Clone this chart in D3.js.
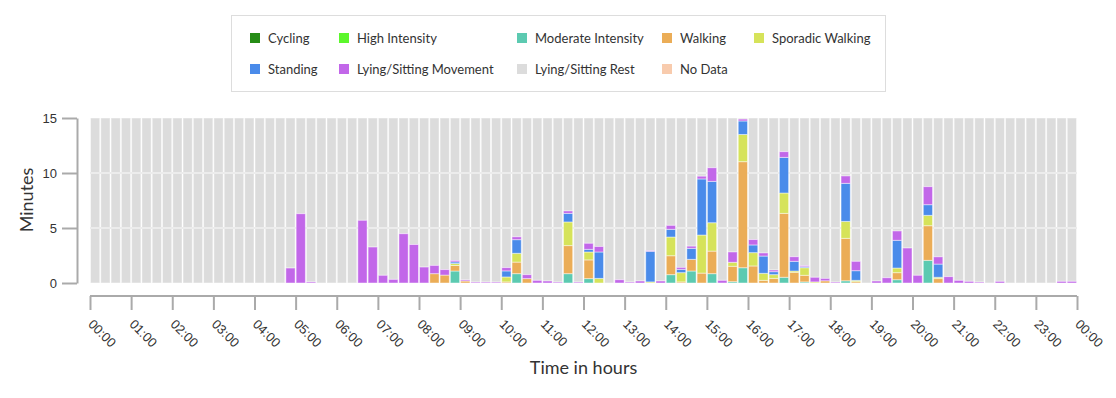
<!DOCTYPE html>
<html>
<head>
    <meta charset="utf-8">
    <title>Activity per 15 minutes</title>
    <script src="https://cdnjs.cloudflare.com/ajax/libs/d3/7.8.5/d3.min.js"></script>
    <style>
        body { margin: 0; background: #fff; font-family: Lato, "Open Sans", sans-serif; }
        svg text { fill: #333; }
        .axis path, .axis line { stroke: #aaa; stroke-width: 2; }
        .axis text { font-size: 13px; fill: #333; }
    </style>
</head>
<body>
<svg id="chart" width="1116" height="398"></svg>
<script>
    // categories (stack order bottom -> top) and colours
    const categories = ["Cycling", "High Intensity", "Moderate Intensity", "Walking", "Sporadic Walking",
        "Standing", "Lying/Sitting Movement", "Lying/Sitting Rest", "No Data"]
    const colors = ["#268c16", "#5cf72c", "#5ccab1", "#ebad57", "#d6e35a",
        "#4a8bea", "#c267e9", "#dcdcdc", "#f8cbad"]

    // minutes per 15 minute slot, 96 slots (12 per row = 3 hours)
    const cycling = [
        0,0,0,0,0,0,0,0,0,0,0,0,
        0,0,0,0,0,0,0,0,0,0,0,0,
        0,0,0,0,0,0,0,0,0,0,0,0,
        0,0,0,0,0,0,0,0,0,0,0,0,
        0,0,0,0,0,0,0,0,0,0,0,0,
        0,0,0,0,0,0,0,0,0,0,0,0,
        0,0,0,0,0,0,0,0,0,0,0,0,
        0,0,0,0,0,0,0,0,0,0,0,0]
    const highIntensity = [
        0,0,0,0,0,0,0,0,0,0,0,0,
        0,0,0,0,0,0,0,0,0,0,0,0,
        0,0,0,0,0,0,0,0,0,0,0,0,
        0,0,0,0,0,0,0,0,0,0,0,0,
        0,0,0,0,0,0,0,0,0,0,0,0,
        0,0,0,0,0,0,0,0,0,0,0,0,
        0,0,0,0,0,0,0,0,0,0,0,0,
        0,0,0,0,0,0,0,0,0,0,0,0]
    const moderate = [
        0,0,0,0,0,0,0,0,0,0,0,0,
        0,0,0,0,0,0,0,0,0,0,0,0,
        0,0,0,0,0,0,0,0,0,0,0,1.09,
        0,0,0,0,0,0.85,0,0,0,0,0.85,0,
        0.4,0,0,0,0,0,0,0,0.76,0,1.09,0,
        0.85,0,0.12,1.39,0,0,0,0.52,0,0.1,0,0,
        0,0.2,0,0,0,0,0.3,0,0,2.06,0,0,
        0,0,0,0,0,0,0,0,0,0,0,0]
    const walking = [
        0,0,0,0,0,0,0,0,0,0,0,0,
        0,0,0,0,0,0,0,0,0,0,0,0,
        0,0,0,0,0,0,0,0,0,0.85,0.72,0.5,
        0.18,0,0,0,0.1,1.05,0.4,0,0,0,2.55,0,
        1.7,0,0,0,0,0,0,0,1.72,0.1,1.06,0.9,
        2.05,0,1.4,9.64,1.55,0.24,0.42,5.81,0.97,0.6,0,0.2,
        0,3.86,0.12,0,0,0,0.64,0,0,3.15,0.4,0,
        0,0,0,0,0,0,0,0,0,0,0,0]
    const sporadic = [
        0,0,0,0,0,0,0,0,0,0,0,0,
        0,0,0,0,0,0,0,0,0,0,0,0,
        0,0,0,0,0,0,0,0,0,0,0,0.18,
        0,0,0,0,0.45,0.8,0,0,0,0,2.15,0,
        0.72,0.42,0,0,0,0,0.1,0,1.7,0.84,0,3.46,
        2.58,0,0.36,2.47,1.21,0.64,0.34,1.85,0.12,0.69,0.1,0,
        0,1.54,0.12,0,0,0,0.42,0,0,0.94,0.12,0,
        0,0,0,0,0,0,0,0,0,0,0,0]
    const standing = [
        0,0,0,0,0,0,0,0,0,0,0,0,
        0,0,0,0,0,0,0,0,0,0,0,0,
        0,0,0,0,0,0,0,0,0,0,0,0.15,
        0,0,0,0,0.55,1.24,0,0,0,0,0.78,0,
        0.24,2.4,0,0,0,0,2.78,0,0.7,0.3,1.0,5.1,
        3.76,0,0,1.23,0.7,1.57,0.27,3.24,0.88,0.09,0,0,
        0,3.46,0.88,0,0,0,2.52,0,0,0.97,1.2,0,
        0,0,0,0,0,0,0,0,0,0,0,0]
    const movement = [
        0,0,0,0,0,0,0,0,0,0,0,0,
        0,0,0,0,0,0,0,1.36,6.3,0.1,0,0,
        0,0,5.7,3.27,0.7,0.33,4.48,3.5,1.45,0.75,0.5,0.13,
        0.1,0.08,0.08,0.08,0.3,0.26,0.36,0.24,0.18,0.08,0.22,0.08,
        0.55,0.5,0,0.3,0.08,0.18,0.06,0.18,0.36,0.18,0.2,0.25,
        1.24,0.24,0.94,0.17,0.49,0.28,0.15,0.52,0.42,0.1,0.42,0.22,
        0.08,0.67,0.85,0,0.18,0.48,0.85,3.18,0.7,1.64,0.66,0.58,
        0.24,0.15,0.08,0,0.15,0,0,0,0,0,0.15,0.15]
    const noData = [
        0,0,0,0,0,0,0,0,0,0,0,0,
        0,0,0,0,0,0,0,0,0,0,0,0,
        0,0,0,0,0,0,0,0,0,0,0,0,
        0,0,0,0,0,0,0,0,0,0,0,0,
        0,0,0,0,0,0,0,0,0,0,0,0,
        0,0,0,0,0,0,0,0,0,0,0,0,
        0,0,0,0,0,0,0,0,0,0,0,0,
        0,0,0,0,0,0,0,0,0,0,0,0]

    const hourLabels = ["00:00","01:00","02:00","03:00","04:00","05:00","06:00","07:00","08:00",
        "09:00","10:00","11:00","12:00","13:00","14:00","15:00","16:00","17:00","18:00",
        "19:00","20:00","21:00","22:00","23:00","00:00"]
    const yTicks = [0, 5, 10, 15]
    const slotMinutes = 15

    // build the table for d3.stack (rest = what is left of the 15 minutes)
    const series = [cycling, highIntensity, moderate, walking, sporadic, standing, movement]
    const activeKeys = categories.slice(0, 7)
    const rows = cycling.map(function (d, i) {
        var row = { slot: i }
        var sum = 0
        activeKeys.forEach(function (k, j) { row[k] = series[j][i]; sum += series[j][i] })
        row["Lying/Sitting Rest"] = slotMinutes - sum
        row["No Data"] = noData[i]
        return row
    })

    const svg = d3.select("#chart")
    const margin = { left: 90, right: 1077, top: 118, bottom: 283 }

    const x = d3.scaleBand()
        .domain(rows.map(function (d) { return d.slot }))
        .range([margin.left, margin.right])
        .paddingInner(0.1)
        .paddingOuter(0.05)
    const xHours = d3.scalePoint()
        .domain(d3.range(hourLabels.length))
        .range([margin.left, margin.right])
    const y = d3.scaleLinear().domain([0, slotMinutes]).range([margin.bottom, margin.top])
    const color = d3.scaleOrdinal().domain(categories).range(colors)

    const stacked = d3.stack().keys(categories.slice(0, 7).concat(["Lying/Sitting Rest"]))(rows)

    function drawLayer(g, layer) {
        g.selectAll("rect")
            .data(layer)
            .enter()
            .append("rect")
            .attr("x", function (d) { return x(d.data.slot) })
            .attr("width", x.bandwidth())
            .attr("y", function (d) { return y(d[1]) })
            .attr("height", function (d) { return y(d[0]) - y(d[1]) })
            .attr("fill", color(layer.key))
            .attr("stroke", "#fff")
            .attr("stroke-opacity", 0.45)
            .attr("stroke-width", 1)
            .style("display", function (d) { return d[1] - d[0] > 0 ? null : "none" })
    }

    // rest layer at the back, then grid, then the activity stacks
    drawLayer(svg.append("g"), stacked[stacked.length - 1])

    svg.append("g")
        .selectAll("line")
        .data(yTicks.slice(1, 3))
        .enter()
        .append("line")
        .attr("x1", margin.left).attr("x2", margin.right)
        .attr("y1", function (d) { return y(d) }).attr("y2", function (d) { return y(d) })
        .attr("stroke", "#ececec")
        .attr("stroke-width", 2)

    stacked.slice(0, 7).forEach(function (layer) { drawLayer(svg.append("g"), layer) })

    // y axis
    svg.append("g")
        .attr("class", "axis")
        .attr("transform", "translate(77,0)")
        .call(d3.axisLeft(y).tickValues(yTicks).tickSize(15).tickSizeOuter(0).tickPadding(5))

    // x axis
    const xAxis = svg.append("g")
        .attr("class", "axis")
        .attr("transform", "translate(0,296)")
        .call(d3.axisBottom(xHours).tickSize(14).tickSizeOuter(0)
            .tickFormat(function (i) { return hourLabels[i] }))
    xAxis.select(".domain").attr("d", "M" + margin.left + ",0H" + margin.right)
    xAxis.selectAll(".tick text")
        .attr("x", 0).attr("y", 0).attr("dy", 0)
        .attr("text-anchor", "start")
        .attr("transform", "translate(-3,29) rotate(45)")

    svg.append("text")
        .attr("transform", "translate(33,200) rotate(-90)")
        .attr("text-anchor", "middle")
        .style("font-size", "18px")
        .text("Minutes")
    svg.append("text")
        .attr("x", (margin.left + margin.right) / 2)
        .attr("y", 374)
        .attr("text-anchor", "middle")
        .style("font-size", "18px")
        .text("Time in hours")

    // legend
    const legendCols = [250, 339, 517, 662, 754]
    const legendRows = [33, 64]
    svg.append("rect")
        .attr("x", 231.5).attr("y", 15.5).attr("width", 654).attr("height", 76)
        .attr("fill", "#fff").attr("stroke", "#ddd")
    const item = svg.append("g").selectAll("g")
        .data(categories)
        .enter()
        .append("g")
        .attr("transform", function (d, i) {
            return "translate(" + legendCols[i % 5] + "," + legendRows[Math.floor(i / 5)] + ")"
        })
    item.append("rect")
        .attr("width", 10).attr("height", 10)
        .attr("fill", function (d) { return color(d) })
    item.append("text")
        .attr("x", 18).attr("y", 9.5)
        .style("font-size", "13px")
        .text(function (d) { return d })
</script>
</body>
</html>
